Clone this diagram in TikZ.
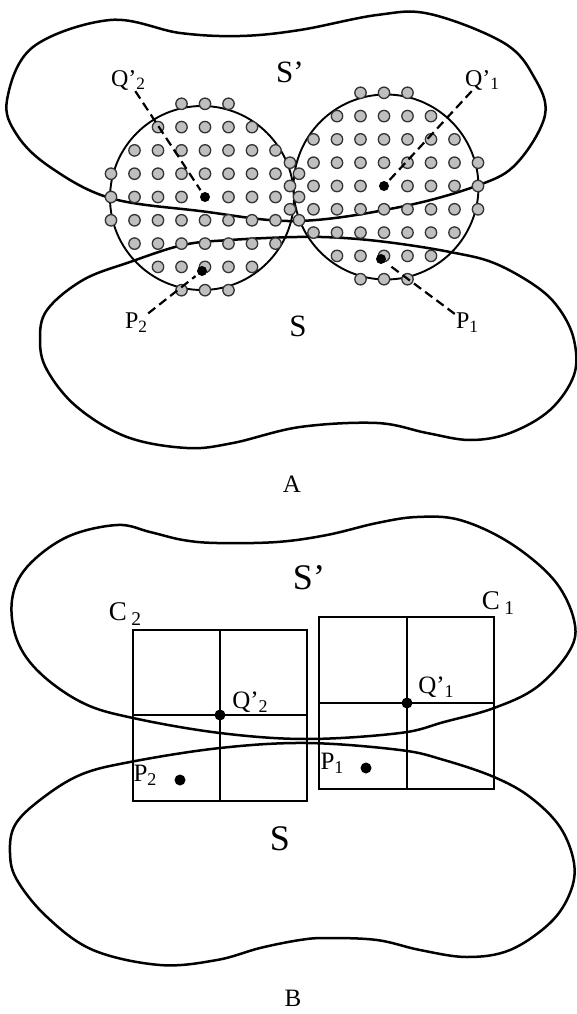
\documentclass[tikz,border=0pt]{standalone}
\usepackage{fontspec}
\setmainfont{Liberation Serif}
\newcommand{\lowd}[1]{\raisebox{-0.35ex}{\scalebox{0.72}{#1}}}
\tikzset{
  blob/.style={line width=2.5pt,line join=round},
  disc/.style={line width=1.9pt},
  cellbox/.style={line width=2.9pt},
  cellline/.style={line width=1.4pt},
  graydot/.style={fill=black!25,draw=black!80,line width=1.3pt},
  blackdot/.style={circle,fill=black,inner sep=0pt,minimum size=10pt},
  leader/.style={line width=2.2pt,dash pattern=on 9pt off 5pt,shorten >=3pt},
  lab/.style={font=\fontsize{24}{28}\selectfont,inner sep=1pt},
  biglab/.style={font=\fontsize{31}{36}\selectfont,inner sep=0pt},
  panel/.style={font=\fontsize{25}{30}\selectfont,inner sep=0pt}
}
\begin{document}
\begin{tikzpicture}[x=1pt,y=-1pt]
\useasboundingbox (0,0) rectangle (577,1014);
% A: the two surfaces and the balls
\draw[blob] plot[smooth cycle,tension=0.6] coordinates {
  (7,100) (33,47) (110,20) (180,33) (240,36) (300,30) (377,15) (430,14)
  (504,43) (534,77) (545,115) (517,163) (479,185) (400,207) (297,221)
  (200,211) (110,198) (50,167) (17,135)};
\draw[blob] plot[smooth cycle,tension=0.6] coordinates {
  (297,237) (230,240) (183,245) (130,262) (83,280) (47,310) (40,340)
  (47,370) (77,407) (127,437) (187,448) (233,443) (300,427) (377,423)
  (427,433) (470,440) (510,433) (550,410) (574,375) (574,340) (560,310)
  (537,287) (494,263) (450,252) (394,243) (344,238)};
\draw[disc] (202,198) circle (92pt);
\draw[disc] (386,187) circle (92.5pt);
\foreach \cx/\cy in {205/197,384/186}{
  \foreach \i in {-4,...,4}{
    \foreach \j in {-4,...,4}{
      \pgfmathtruncatemacro\rr{\i*\i+\j*\j}
      \ifnum\rr<18 \ifnum\rr>0
        \filldraw[graydot] (\cx+23.5*\i,\cy+23.3*\j) circle (5.7pt);
      \fi\fi
    }}}
\node[blackdot] (qa2) at (205,197) {};
\node[blackdot] (qa1) at (384,186) {};
\node[blackdot] (pa2) at (202,271) {};
\node[blackdot] (pa1) at (381,259) {};
\node[biglab] (sta) at (290,72) {S’};
\node[biglab] (sa) at (298,326) {S};
\node[lab] (qa2l) at (128,80) {Q’\lowd{2}};
\node[lab] (qa1l) at (482,80) {Q’\lowd{1}};
\node[lab] (pa2l) at (136,323) {P\lowd{2}};
\node[lab] (pa1l) at (467,323) {P\lowd{1}};
\draw[leader] (qa2l) -- (qa2);
\draw[leader] (qa1l) -- (qa1);
\draw[leader] (pa2l) -- (pa2);
\draw[leader] (pa1l) -- (pa1);
\node[panel] (cap a) at (292,484) {A};
% B: the same surfaces with the cells
\draw[blob] plot[smooth cycle,tension=0.6] coordinates {
  (117,525) (67,537) (27,567) (12,600) (17,640) (40,673) (83,703)
  (133,718) (220,733) (307,739) (400,733) (444,722) (494,708) (537,687)
  (570,650) (574,620) (554,580) (510,543) (460,520) (417,517) (377,523)
  (327,535) (277,542) (217,543) (183,540) (150,532)};
\draw[blob] plot[smooth cycle,tension=0.6] coordinates {
  (130,762) (220,748) (307,743) (400,750) (444,760) (494,777)
  (530,797) (560,827) (574,863) (570,893) (550,923) (510,950) (467,957)
  (420,950) (377,940) (327,938) (300,940) (260,948) (217,960) (160,965)
  (93,950) (47,917) (17,880) (10,853) (15,825) (40,800) (80,775)};
\draw[cellline] (220,630) -- (220,801) (133,715) -- (307,715);
\draw[cellline] (407,617) -- (407,789) (319,703) -- (494,703);
\draw[cellbox] (133,630) rectangle (307,801);
\draw[cellbox] (319,617) rectangle (494,789);
\node[blackdot,minimum size=11pt] (qb2) at (220,715) {};
\node[blackdot,minimum size=11pt] (qb1) at (407,703) {};
\node[blackdot,minimum size=11pt] (pb2) at (180,780) {};
\node[blackdot,minimum size=11pt] (pb1) at (366,768) {};
\node[biglab,font=\fontsize{36}{40}\selectfont] (stb) at (309,578) {S’};
\node[biglab,font=\fontsize{36}{40}\selectfont] (sb) at (280,839) {S};
\node[lab,font=\fontsize{27}{30}\selectfont] (c2) at (125,614) {C\,\lowd{2}};
\node[lab,font=\fontsize{27}{30}\selectfont] (c1) at (498,603) {C\,\lowd{1}};
\node[lab,font=\fontsize{25}{28}\selectfont] (qb2l) at (250,702) {Q’\lowd{2}};
\node[lab,font=\fontsize{25}{28}\selectfont] (qb1l) at (436,687) {Q’\lowd{1}};
\node[lab,font=\fontsize{25}{28}\selectfont] (pb2l) at (145,775) {P\lowd{2}};
\node[lab,font=\fontsize{25}{28}\selectfont] (pb1l) at (332,763) {P\lowd{1}};
\node[panel] (cap b) at (293,998) {B};
\end{tikzpicture}
\end{document}
